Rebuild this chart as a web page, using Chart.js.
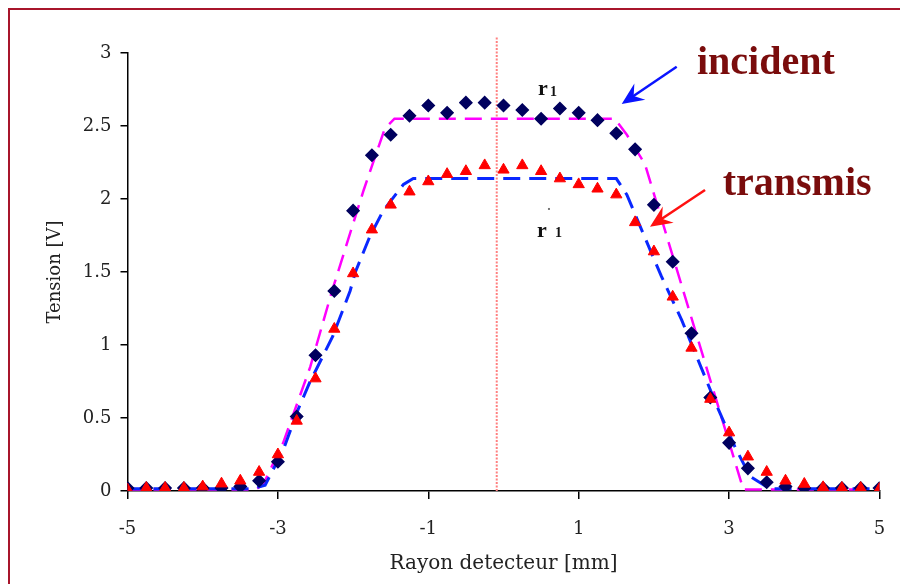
<!DOCTYPE html>
<html>
<head>
<meta charset="utf-8">
<title>Tension / rayon detecteur</title>
<script src="https://cdn.jsdelivr.net/npm/chart.js@4.4.1/dist/chart.umd.min.js"></script>
<style>
  html, body { margin: 0; padding: 0; background: #fff; overflow: hidden; }
  #wrap { position: relative; width: 900px; height: 584px; }
  #frame { position: absolute; left: 8px; top: 8px; width: 1000px; height: 1000px;
           border: 2px solid #a8152b; box-sizing: border-box; }
  canvas { position: absolute; left: 0; top: 0; }
</style>
</head>
<body>
<div id="wrap">
  <div id="frame"></div>
  <canvas id="profil" width="900" height="584"></canvas>
</div>
<script>
// positions du detecteur (mm)
const rayon = [-5, -4.75, -4.5, -4.25, -4, -3.75, -3.5, -3.25, -3, -2.75, -2.5, -2.25, -2, -1.75,
  -1.5, -1.25, -1, -0.75, -0.5, -0.25, 0, 0.25, 0.5, 0.75, 1, 1.25, 1.5, 1.75, 2, 2.25, 2.5,
  2.75, 3, 3.25, 3.5, 3.75, 4, 4.25, 4.5, 4.75, 5];

// mesures (V)
const incident = [0.02, 0.02, 0.02, 0.02, 0.02, 0.02, 0.03, 0.07, 0.20, 0.51, 0.93, 1.37, 1.92, 2.30,
  2.44, 2.57, 2.64, 2.59, 2.66, 2.66, 2.64, 2.61, 2.55, 2.62, 2.59, 2.54, 2.45, 2.34, 1.96, 1.57, 1.08,
  0.64, 0.33, 0.155, 0.06, 0.03, 0.02, 0.02, 0.02, 0.02, 0.02];
const transmis = [0.01, 0.02, 0.02, 0.02, 0.03, 0.05, 0.07, 0.13, 0.25, 0.48, 0.77, 1.11, 1.49, 1.79,
  1.96, 2.05, 2.12, 2.17, 2.19, 2.23, 2.20, 2.23, 2.19, 2.14, 2.10, 2.07, 2.03, 1.84, 1.64, 1.33, 0.98,
  0.63, 0.40, 0.235, 0.13, 0.07, 0.048, 0.025, 0.02, 0.02, 0.015];

// profils ajustes (trapezes)
const fitIncX = [-5, -3.3, -3.2, -2.93, -2.57, -2.28, -1.86, -1.58, -1.45, 1.48, 1.64, 1.88, 3.19, 5];
const fitIncY = [0.01, 0.01, 0.04, 0.33, 0.85, 1.37, 2.06, 2.48, 2.55, 2.55, 2.44, 2.24, 0.01, 0.01];
const fitTrX = [-5, -3.35, -3.17, -2.93, -2.73, -2.58, -2.27, -2.04, -1.97, -1.78, -1.6, -1.33, -1.2,
  1.5, 1.64, 1.86, 2.10, 2.37, 2.86, 3.08, 3.28, 3.54, 5];
const fitTrY = [0.015, 0.015, 0.04, 0.28, 0.56, 0.74, 1.06, 1.37, 1.5, 1.74, 1.92, 2.10, 2.14,
  2.14, 2.03, 1.76, 1.47, 1.17, 0.555, 0.30, 0.10, 0.015, 0.015];

// axe du faisceau
const axeX = [-0.09, -0.09];
const axeY = [0, 3.11];

const xTicks = [-5, -3, -1, 1, 3, 5];
const yTicks = [0, 0.5, 1, 1.5, 2, 2.5, 3];

const pts = (xs, ys) => xs.map((x, i) => ({ x: x, y: ys[i] }));

const serif = 'DejaVu Serif';

function drawArrow(ctx, x1, y1, x2, y2, color) {
  const ang = Math.atan2(y2 - y1, x2 - x1);
  const len = 24, half = 0.42;
  ctx.save();
  ctx.strokeStyle = color;
  ctx.fillStyle = color;
  ctx.lineWidth = 2.5;
  ctx.beginPath();
  ctx.moveTo(x1, y1);
  ctx.lineTo(x2 - Math.cos(ang) * 12, y2 - Math.sin(ang) * 12);
  ctx.stroke();
  ctx.beginPath();
  ctx.moveTo(x2, y2);
  ctx.lineTo(x2 - len * Math.cos(ang - half), y2 - len * Math.sin(ang - half));
  ctx.lineTo(x2 - len * 0.6 * Math.cos(ang), y2 - len * 0.6 * Math.sin(ang));
  ctx.lineTo(x2 - len * Math.cos(ang + half), y2 - len * Math.sin(ang + half));
  ctx.closePath();
  ctx.fill();
  ctx.restore();
}

// textes et fleches, places en coordonnees des axes
const notes = {
  id: 'notes',
  afterDatasetsDraw(chart) {
    const { ctx, scales: { x, y } } = chart;
    const px = v => x.getPixelForValue(v);
    const py = v => y.getPixelForValue(v);
    ctx.save();
    ctx.textBaseline = 'alphabetic';
    ctx.textAlign = 'left';

    // r1 et r'1
    ctx.fillStyle = '#111';
    ctx.font = 'bold 22px "Liberation Serif"';
    ctx.fillText('r', px(0.459), py(2.71));
    ctx.fillText('r', px(0.445), py(1.74));
    ctx.font = 'bold 14px "Liberation Serif"';
    ctx.fillText('1', px(0.459) + 12, py(2.71) + 1);
    ctx.fillText('1', px(0.445) + 18, py(1.74));
    ctx.fillStyle = '#777';
    ctx.fillRect(px(0.445) + 11, py(1.74) - 29, 2, 2);

    // legendes
    ctx.fillStyle = '#7a0c0c';
    ctx.font = 'bold 40px "Liberation Serif"';
    ctx.fillText('incident', px(2.573), py(2.856));
    ctx.fillText('transmis', px(2.915), py(2.027));

    drawArrow(ctx, px(2.303), py(2.906), px(1.572), py(2.651), '#0a14ff');
    drawArrow(ctx, px(2.68), py(2.062), px(1.948), py(1.81), '#ff1010');
    ctx.restore();
  }
};

new Chart(document.getElementById('profil'), {
  type: 'scatter',
  data: {
    datasets: [
      {
        label: 'transmis',
        data: pts(rayon, transmis),
        pointStyle: 'triangle',
        pointRadius: 6.5,
        backgroundColor: '#ff0000',
        borderColor: '#ff0000',
        borderWidth: 1
      },
      {
        label: 'incident',
        data: pts(rayon, incident),
        pointStyle: 'rectRot',
        pointRadius: 6,
        backgroundColor: '#00005e',
        borderColor: '#00005e',
        borderWidth: 1.5
      },
      {
        label: 'ajustement transmis',
        data: pts(fitTrX, fitTrY),
        showLine: true,
        pointRadius: 0,
        borderColor: '#0a28ff',
        borderWidth: 3,
        borderDash: [17, 9],
        tension: 0
      },
      {
        label: 'ajustement incident',
        data: pts(fitIncX, fitIncY),
        showLine: true,
        pointRadius: 0,
        borderColor: '#ff00ff',
        borderWidth: 2.5,
        borderDash: [17, 9],
        tension: 0
      },
      {
        label: 'axe',
        data: pts(axeX, axeY),
        showLine: true,
        pointRadius: 0,
        borderColor: '#ff8080',
        borderWidth: 2,
        borderDash: [2, 1.5],
        clip: false
      }
    ]
  },
  options: {
    responsive: false,
    animation: false,
    devicePixelRatio: 1,
    layout: { padding: { top: 53, right: 20.5, bottom: 0, left: 0 } },
    plugins: {
      legend: { display: false },
      tooltip: { enabled: false }
    },
    scales: {
      x: {
        type: 'linear',
        min: -5,
        max: 5,
        afterFit: s => {
          s.height = 93;
          // les libelles extremes tiennent dans les marges
          s.paddingLeft = 0;
          s.paddingRight = 0;
        },
        afterBuildTicks: s => { s.ticks = xTicks.map(v => ({ value: v })); },
        ticks: {
          color: '#222',
          font: { family: serif, size: 18 },
          padding: 20,
          maxRotation: 0,
          autoSkip: false,
          callback: v => String(v)
        },
        grid: { drawOnChartArea: false, tickLength: 8, color: '#000', lineWidth: 1.5 },
        border: { color: '#000', width: 1.5 },
        title: {
          display: true,
          text: 'Rayon detecteur [mm]',
          color: '#222',
          font: { family: serif, size: 20 },
          padding: { top: 0, bottom: 8 }
        }
      },
      y: {
        min: 0,
        max: 3,
        afterFit: s => { s.width = 127.5; },
        afterBuildTicks: s => { s.ticks = yTicks.map(v => ({ value: v })); },
        ticks: {
          color: '#222',
          font: { family: serif, size: 18 },
          padding: 9,
          callback: v => String(v)
        },
        grid: { drawOnChartArea: false, tickLength: 7, color: '#000', lineWidth: 1.5 },
        border: { color: '#000', width: 1.5 },
        title: {
          display: true,
          text: 'Tension [V]',
          color: '#222',
          font: { family: serif, size: 18 },
          padding: { top: 45, bottom: 0 }
        }
      }
    }
  },
  plugins: [notes]
});
</script>
</body>
</html>
